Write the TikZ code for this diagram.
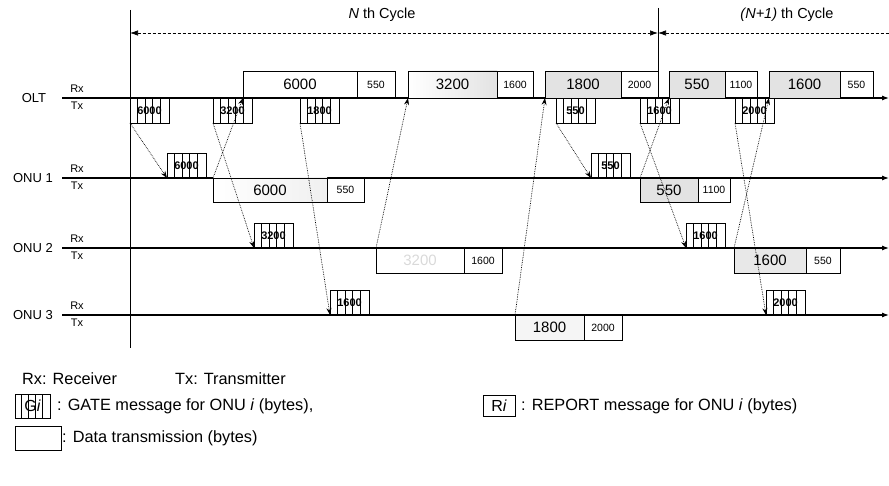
\documentclass[tikz,border=0pt]{standalone}
\usepackage{fontspec}
\setmainfont{Liberation Sans}
\usetikzlibrary{arrows.meta,calc}
\tikzset{
  lab/.style={font=\fontsize{13}{14}\selectfont},
  rxtx/.style={font=\fontsize{11}{12}\selectfont},
  big/.style={draw, line width=0.9pt, inner sep=0pt, outer sep=0pt, font=\fontsize{15}{16}\selectfont},
  small/.style={draw, line width=0.9pt, inner sep=0pt, outer sep=0pt, font=\fontsize{10.5}{11}\selectfont},
  gate/.style={draw, line width=0.9pt, minimum width=39pt, minimum height=25pt, inner sep=0pt, outer sep=0pt,
    font=\bfseries\fontsize{11}{12}\selectfont,
    path picture={\foreach \f in {0.18,0.38,0.58,0.78}
      \draw[line width=0.6pt] ($(path picture bounding box.south west)!\f!(path picture bounding box.south east)$)
        -- ($(path picture bounding box.north west)!\f!(path picture bounding box.north east)$);}},
  msg/.style={densely dotted, line width=0.7pt, -{Stealth[length=7pt,width=5pt]}},
  axisline/.style={line width=1.1pt, -{Latex[length=7pt,width=5pt]}},
  cyc/.style={densely dashed, line width=0.7pt},
  legend/.style={font=\fontsize{16.3}{18}\selectfont, anchor=west, inner sep=0pt},
}
\begin{document}
\begin{tikzpicture}[x=1pt,y=-1pt]
\useasboundingbox (0,0) rectangle (889,486);

% time axes
\coordinate (oS) at (62,98);   \coordinate (oE) at (889,98);
\coordinate (aS) at (62,178);  \coordinate (aE) at (889,178);
\coordinate (bS) at (62,248);  \coordinate (bE) at (889,248);
\coordinate (cS) at (62,315);  \coordinate (cE) at (889,315);
\draw[axisline] (oS) -- (oE);
\draw[axisline] (aS) -- (aE);
\draw[axisline] (bS) -- (bE);
\draw[axisline] (cS) -- (cE);

\node[lab] (lo) at (34,98) {OLT};
\node[lab] (la) at (33,178) {ONU 1};
\node[lab] (lb) at (33,248) {ONU 2};
\node[lab] (lc) at (33,315) {ONU 3};
\foreach \n/\y in {o/98,a/178,b/248,c/315}{
  \node[rxtx] (rx\n) at (77,\y-9) {Rx};
  \node[rxtx] (tx\n) at (77,\y+8) {Tx};
}

% cycle boundaries
\coordinate (v1t) at (130,10); \coordinate (v1b) at (130,348);
\coordinate (v2t) at (658,8);  \coordinate (v2b) at (658,98);
\draw[line width=0.9pt] (v1t) -- (v1b);
\draw[line width=0.9pt] (v2t) -- (v2b);
\coordinate (c1a) at (130,33); \coordinate (c1b) at (658,33); \coordinate (c2b) at (889,33);
\draw[cyc, {Latex[length=8pt,width=5.5pt]}-{Latex[length=8pt,width=5.5pt]}] (c1a) -- (c1b);
\draw[cyc, {Latex[length=8pt,width=5.5pt]}-] (c1b) -- (c2b);
\node[font=\fontsize{14.5}{16}\selectfont] (cN) at (382,15) {\textit{N} th Cycle};
\node[font=\fontsize{14.5}{16}\selectfont] (cN1) at (787,15) {\textit{(N+1)} th Cycle};

% OLT Rx data boxes
\node[big, anchor=south west, minimum width=114pt, minimum height=27pt] (dO1) at (243,98) {6000};
\node[small, anchor=south west, minimum width=38pt, minimum height=27pt] (sO1) at (357,98) {550};
\node[big, anchor=south west, minimum width=89pt, minimum height=27pt, left color=white, right color=gray!22] (dO2) at (408,98) {3200};
\node[small, anchor=south west, minimum width=36pt, minimum height=27pt] (sO2) at (497,98) {1600};
\node[big, anchor=south west, minimum width=76pt, minimum height=27pt, fill=gray!22] (dO3) at (545,98) {1800};
\node[small, anchor=south west, minimum width=37pt, minimum height=27pt] (sO3) at (621,98) {2000};
\node[big, anchor=south west, minimum width=56pt, minimum height=27pt, fill=gray!22] (dO4) at (669,98) {550};
\node[small, anchor=south west, minimum width=32pt, minimum height=27pt] (sO4) at (725,98) {1100};
\node[big, anchor=south west, minimum width=71pt, minimum height=27pt, fill=gray!22] (dO5) at (769,98) {1600};
\node[small, anchor=south west, minimum width=33pt, minimum height=27pt] (sO5) at (840,98) {550};

% OLT Tx gates
\node[gate, anchor=north west] (gO1) at (130,98) {6000};
\node[gate, anchor=north west] (gO2) at (213,98) {3200};
\node[gate, anchor=north west] (gO3) at (300,98) {1800};
\node[gate, anchor=north west] (gO4) at (556,98) {550};
\node[gate, anchor=north west] (gO5) at (640,98) {1600};
\node[gate, anchor=north west] (gO6) at (735,98) {2000};

% ONU 1
\node[gate, anchor=south west] (gA1) at (167,178) {6000};
\node[gate, anchor=south west] (gA2) at (591,178) {550};
\node[big, anchor=north west, minimum width=114pt, minimum height=24pt, left color=white, right color=gray!12] (dA1) at (213,178) {6000};
\node[small, anchor=north west, minimum width=37pt, minimum height=24pt] (sA1) at (327,178) {550};
\node[big, anchor=north west, minimum width=58pt, minimum height=24pt, fill=gray!22] (dA2) at (640,178) {550};
\node[small, anchor=north west, minimum width=32pt, minimum height=24pt] (sA2) at (698,178) {1100};

% ONU 2
\node[gate, anchor=south west] (gB1) at (254,248) {3200};
\node[gate, anchor=south west] (gB2) at (686,248) {1600};
\node[big, anchor=north west, minimum width=88pt, minimum height=25pt, text=gray!30] (dB1) at (376,248) {3200};
\node[small, anchor=north west, minimum width=38pt, minimum height=25pt] (sB1) at (464,248) {1600};
\node[big, anchor=north west, minimum width=72pt, minimum height=25pt, fill=gray!18] (dB2) at (734,248) {1600};
\node[small, anchor=north west, minimum width=34pt, minimum height=25pt] (sB2) at (806,248) {550};

% ONU 3
\node[gate, anchor=south west] (gC1) at (330,315) {1600};
\node[gate, anchor=south west] (gC2) at (766,315) {2000};
\node[big, anchor=north west, minimum width=69pt, minimum height=25pt, fill=gray!8] (dC1) at (515,315) {1800};
\node[small, anchor=north west, minimum width=38pt, minimum height=25pt] (sC1) at (584,315) {2000};

% messages
\draw[msg] (gO1.south west) -- (gA1.south west);
\draw[msg] (gO2.south west) -- (gB1.south west);
\draw[msg] (dA1.north west) -- (dO1.south west);
\draw[msg] (gO3.south west) -- (gC1.south west);
\draw[msg] (dB1.north west) -- (dO2.south west);
\draw[msg] (dC1.north west) -- (dO3.south west);
\draw[msg] (gO4.south west) -- (gA2.south west);
\draw[msg] (gO5.south west) -- (gB2.south west);
\draw[msg] (dA2.north west) -- (dO4.south west);
\draw[msg] (gO6.south west) -- (gC2.south west);
\draw[msg] (dB2.north west) -- (dO5.south west);

% legend
\node[legend] (l1) at (22,379) {Rx: Receiver};
\node[legend] (l2) at (175,379) {Tx: Transmitter};
\node[gate, anchor=north west, minimum width=35pt, minimum height=24pt, font=\fontsize{16}{17}\selectfont] (lg) at (15,394) {G\textit{i}};
\node[legend] (lgt) at (57,406) {: GATE message for ONU \textit{i} (bytes),};
\node[big, anchor=north west, minimum width=32pt, minimum height=21pt, font=\fontsize{16}{17}\selectfont] (lr) at (483,395) {R\textit{i}};
\node[legend] (lrt) at (521,406) {: REPORT message for ONU \textit{i} (bytes)};
\node[big, anchor=north west, minimum width=46pt, minimum height=24pt] (ld) at (15,426) {};
\node[legend] (ldt) at (62,438) {: Data transmission (bytes)};
\end{tikzpicture}
\end{document}
